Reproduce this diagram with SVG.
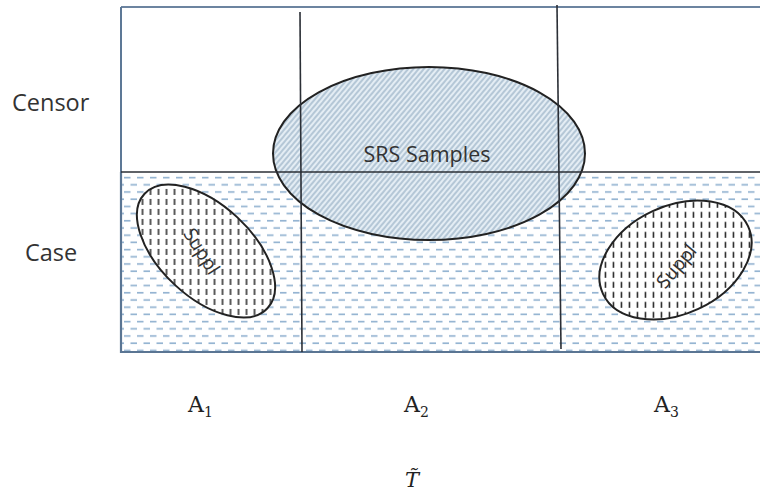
<svg xmlns="http://www.w3.org/2000/svg" width="760" height="496" viewBox="0 0 760 496">
<style>
.lbl{font-family:"Open Sans","Liberation Sans",sans-serif;fill:#333;}
.math{font-family:"DejaVu Serif","Liberation Serif",serif;fill:#222;}
.div{stroke:#2b2f36;stroke-width:1.6;fill:none;}
.ell{stroke:#222;stroke-width:2;}
.dl{stroke:#8fb0cf;stroke-width:1.6;}
</style>
<defs>
<pattern id="dash" width="13" height="14.4" patternUnits="userSpaceOnUse" x="121" y="174">
<rect width="13" height="14.4" fill="#ffffff"/>
<line x1="3" y1="3.6" x2="9.5" y2="3.6" class="dl"/>
<line x1="9.5" y1="10.8" x2="16" y2="10.8" class="dl"/>
<line x1="-3.5" y1="10.8" x2="3" y2="10.8" class="dl"/>
</pattern>
<pattern id="hatch" width="4" height="4" patternUnits="userSpaceOnUse" patternTransform="rotate(40)">
<rect width="4" height="4" fill="#e4edf4"/>
<line x1="1" y1="0" x2="1" y2="4" stroke="#7b98b2" stroke-width="0.9"/>
</pattern>
<pattern id="vdash1" width="8" height="10" patternUnits="userSpaceOnUse" patternTransform="rotate(-43)">
<rect width="8" height="10" fill="#ffffff"/>
<line x1="4" y1="2" x2="4" y2="8" stroke="#222" stroke-width="1.5"/>
</pattern>
<pattern id="vdash2" width="8" height="10" patternUnits="userSpaceOnUse" patternTransform="rotate(25)">
<rect width="8" height="10" fill="#ffffff"/>
<line x1="4" y1="2" x2="4" y2="8" stroke="#222" stroke-width="1.5"/>
</pattern>
</defs>
<rect width="760" height="496" fill="#ffffff"/>
<g id="censor-region">
<path d="M121 7 H760" stroke="#6c84a0" stroke-width="2" fill="none"/>
<path d="M121 7 V172" stroke="#5d7896" stroke-width="2" fill="none"/>
</g>
<g id="case-region">
<rect x="121" y="172" width="640" height="180" fill="url(#dash)"/>
<path d="M121 172 V352 H760" stroke="#5a7593" stroke-width="2.2" fill="none"/>
</g>
<g id="srs-samples">
<ellipse cx="429" cy="153.5" rx="156" ry="86.5" fill="url(#hatch)" class="ell"/>
<text x="427" y="162" text-anchor="middle" class="lbl" font-size="21.5">SRS Samples</text>
</g>
<g id="connectors">
<line x1="121" y1="172" x2="760" y2="172" class="div" stroke-width="2"/>
<line x1="300" y1="12" x2="302" y2="352" class="div"/>
<line x1="557" y1="5" x2="561" y2="349" class="div"/>
</g>
<g id="suppl-1">
<ellipse cx="206" cy="251" rx="84" ry="46" transform="rotate(43 206 251)" fill="url(#vdash1)" class="ell"/>
<text x="0" y="0" transform="translate(202 251) rotate(58)" text-anchor="middle" dominant-baseline="central" class="lbl" font-size="19">Suppl</text>
</g>
<g id="suppl-2">
<ellipse cx="675.5" cy="260" rx="80" ry="54" transform="rotate(-25 675.5 260)" fill="url(#vdash2)" class="ell"/>
<text x="0" y="0" transform="translate(676 266) rotate(-50)" text-anchor="middle" dominant-baseline="central" class="lbl" font-size="19">Suppl</text>
</g>
<g id="row-labels">
<text x="12" y="111" class="lbl" font-size="23.5">Censor</text>
<text x="25" y="261" class="lbl" font-size="23.5">Case</text>
</g>
<g id="col-labels">
<text x="188" y="412" class="math" font-size="22">A<tspan font-size="14" dy="5">1</tspan></text>
<text x="404" y="412" class="math" font-size="22">A<tspan font-size="14" dy="5">2</tspan></text>
<text x="654" y="412" class="math" font-size="22">A<tspan font-size="14" dy="5">3</tspan></text>
<text x="405" y="487" class="math" font-size="21" font-style="italic">T̃</text>
</g>
</svg>
